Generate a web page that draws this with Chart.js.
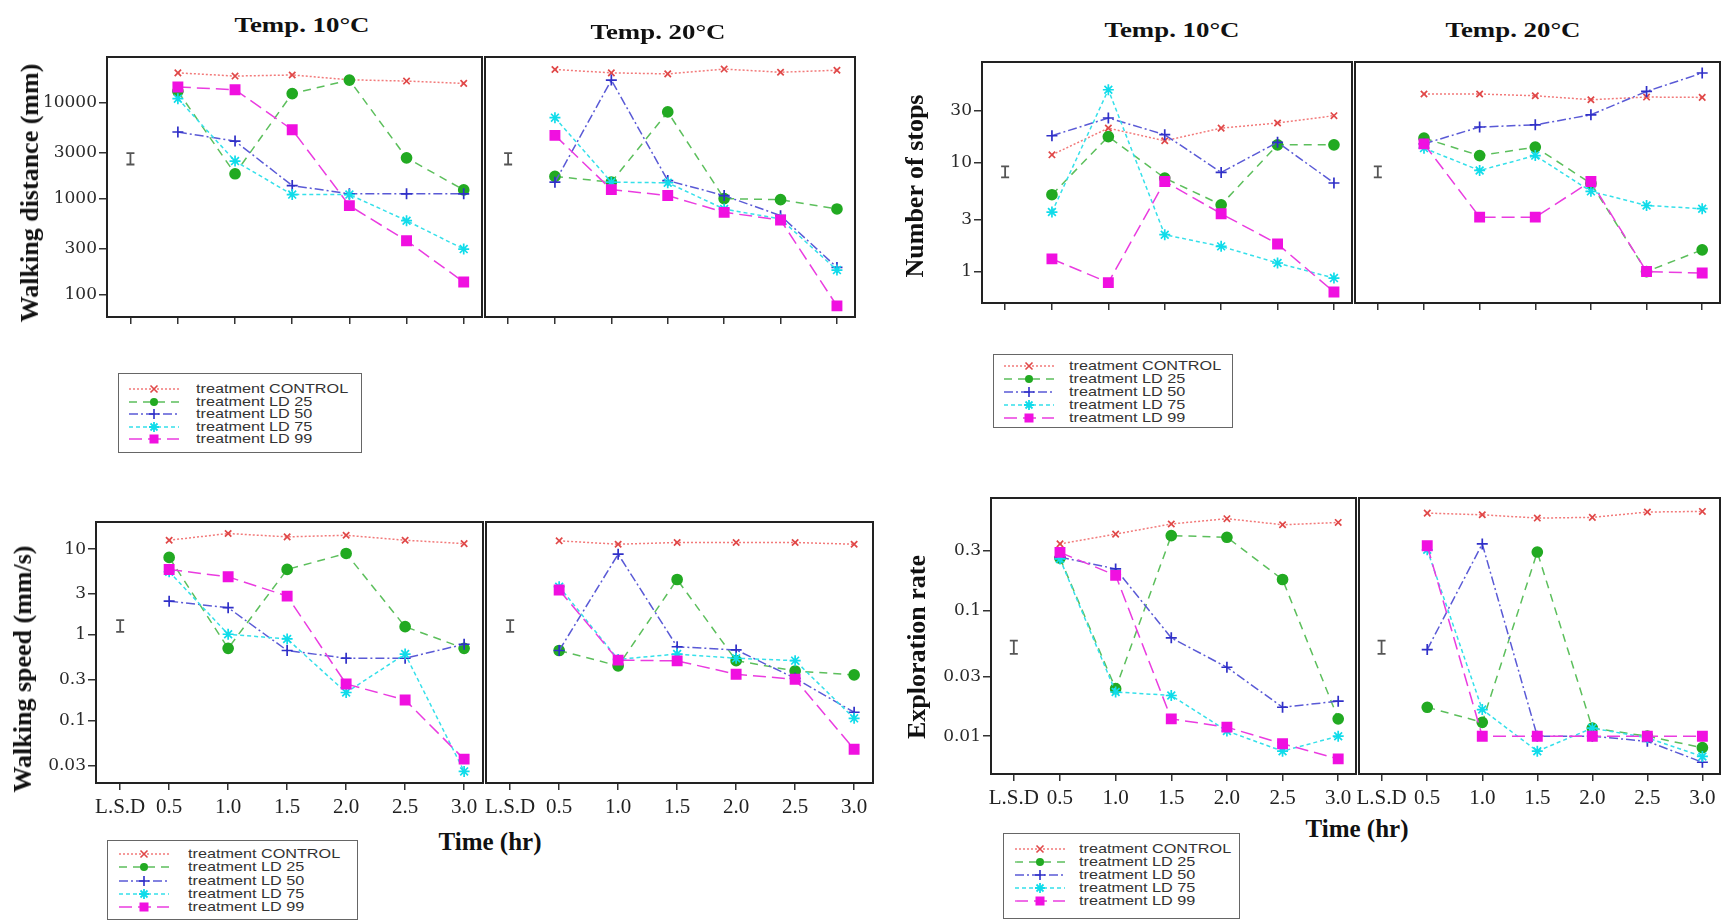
<!DOCTYPE html>
<html>
<head>
<meta charset="utf-8">
<script src="https://cdn.jsdelivr.net/npm/chart.js@4.4.1/dist/chart.umd.min.js"></script>
<style>
html, body { margin: 0; padding: 0; background: #fff; overflow: hidden; }
#page { position: relative; width: 1721px; height: 921px; }
canvas { position: absolute; }
.title { position: absolute; font: bold 22px "Liberation Serif", serif; color: #111; white-space: nowrap; transform: translate(-50%, -50%) scaleX(1.22); }
.ytitle { position: absolute; font: bold 26px "Liberation Serif", serif; color: #111; white-space: nowrap; transform: translate(-50%, -50%) rotate(-90deg); }
.xtitle { position: absolute; font: bold 25px "Liberation Serif", serif; color: #111; white-space: nowrap; transform: translate(-50%, -50%); }
.legend { position: absolute; border: 1.5px solid #666; box-sizing: border-box; background: #fff; }
.legend .row { position: absolute; left: 0; height: 14px; width: 100%; }
.legend svg { position: absolute; top: 1px; }
.legend span { position: absolute; top: 0; font: 13.5px "Liberation Sans", Arial, sans-serif; line-height: 14px; color: #333; white-space: nowrap; transform: scaleX(1.2); transform-origin: 0 50%; }
</style>
</head>
<body>
<div id="page"></div>
<script>
// time points (hr) and the L.S.D slot on the x axis
const times = [0.5, 1.0, 1.5, 2.0, 2.5, 3.0];
const lsdPos = 0.085;
const xTickLabels = ['L.S.D', '0.5', '1.0', '1.5', '2.0', '2.5', '3.0'];
const treatments = ['treatment CONTROL', 'treatment LD 25', 'treatment LD 50', 'treatment LD 75', 'treatment LD 99'];

// Walking distance (mm)
const distTicks = [100, 300, 1000, 3000, 10000];
const dist10 = [
    [20200, 18700, 19200, 17100, 16600, 15700],
    [13000, 1810, 12300, 17000, 2650, 1230],
    [4910, 3950, 1365, 1120, 1120, 1120],
    [10900, 2450, 1100, 1100, 590, 299],
    [14400, 13500, 5190, 845, 365, 136]
];
const dist20 = [
    [21900, 20200, 19700, 22100, 20500, 21500],
    [1700, 1480, 7930, 1000, 975, 780],
    [1480, 17000, 1540, 1075, 665, 193],
    [6920, 1480, 1460, 780, 614, 181],
    [4530, 1240, 1075, 720, 600, 77]
];
const distLsd = [2260, 2970];

// Number of stops
const stopsTicks = [1, 3, 10, 30];
const stops10 = [
    [11.9, 20.9, 16.0, 20.9, 23.3, 27.2],
    [5.12, 17.5, 7.28, 4.14, 14.7, 14.7],
    [17.8, 25.9, 18.2, 8.2, 15.5, 6.56],
    [3.55, 47, 2.2, 1.72, 1.21, 0.88],
    [1.32, 0.80, 6.78, 3.43, 1.81, 0.656]
];
const stops20 = [
    [43, 43, 41.4, 38.1, 40.3, 40],
    [16.9, 11.7, 14.0, 6.5, 1.01, 1.6],
    [15.0, 21.4, 22.4, 27.7, 45.4, 67],
    [13.7, 8.55, 11.7, 5.5, 4.08, 3.81],
    [15.0, 3.19, 3.19, 6.78, 1.01, 0.98]
];
const stopsLsd = [7.4, 9.3];

// Walking speed (mm/s)
const speedTicks = [0.03, 0.1, 0.3, 1, 3, 10];
const speed10 = [
    [12.7, 15.2, 13.9, 14.5, 12.7, 11.6],
    [8.0, 0.70, 5.8, 8.9, 1.25, 0.70],
    [2.48, 2.08, 0.66, 0.536, 0.536, 0.78],
    [5.45, 1.02, 0.90, 0.214, 0.60, 0.0258],
    [5.8, 4.76, 2.84, 0.269, 0.175, 0.0358]
];
const speed20 = [
    [12.5, 11.4, 11.95, 11.95, 11.95, 11.4],
    [0.66, 0.437, 4.43, 0.503, 0.381, 0.343],
    [0.66, 8.74, 0.73, 0.67, 0.313, 0.126],
    [3.65, 0.52, 0.60, 0.536, 0.503, 0.107],
    [3.34, 0.51, 0.50, 0.349, 0.305, 0.0468]
];
const speedLsd = [1.09, 1.49];

// Exploration rate
const exploreTicks = [0.01, 0.03, 0.1, 0.3];
const explore10 = [
    [0.34, 0.407, 0.49, 0.54, 0.483, 0.504],
    [0.262, 0.0239, 0.396, 0.384, 0.177, 0.01375],
    [0.267, 0.215, 0.0607, 0.0354, 0.017, 0.019],
    [0.258, 0.0225, 0.0211, 0.011, 0.0076, 0.01],
    [0.291, 0.191, 0.01375, 0.0118, 0.0087, 0.0066]
];
const explore20 = [
    [0.598, 0.58, 0.546, 0.553, 0.61, 0.617],
    [0.017, 0.0129, 0.293, 0.0116, 0.01, 0.0081],
    [0.049, 0.34, 0.01, 0.01, 0.0091, 0.0062],
    [0.305, 0.0163, 0.0076, 0.0116, 0.0097, 0.0069],
    [0.329, 0.01, 0.01, 0.01, 0.01, 0.01]
];
const exploreLsd = [0.0452, 0.0577];

// series styles
const lineColors = ['#f27a7a', '#5cbf5c', '#5a5ad6', '#35e0ea', '#ea3ce0'];
const markColors = ['#e04848', '#22aa22', '#3030c8', '#10dcea', '#f010e0'];
const dashes = [[2, 2], [8, 6], [9, 3, 2, 3], [4, 3], [13, 6]];
const shapes = ['crossRot', 'circle', 'cross', 'star', 'rect'];
const radii = [4.5, 5, 5.5, 5.5, 6.5];

const panels = [
    { yMin: 59, yMax: 29500, ticks: distTicks, d10: dist10, d20: dist20, lsd: distLsd,
      top: 57, h: 260, l: [107, 375], r: [482, 373], xLabels: false },
    { yMin: 0.52, yMax: 84.5, ticks: stopsTicks, d10: stops10, d20: stops20, lsd: stopsLsd,
      top: 62, h: 241, l: [982, 370], r: [1352, 368], xLabels: false },
    { yMin: 0.0189, yMax: 20.7, ticks: speedTicks, d10: speed10, d20: speed20, lsd: speedLsd,
      top: 522, h: 261, l: [96, 387], r: [483, 390], xLabels: true },
    { yMin: 0.005, yMax: 0.789, ticks: exploreTicks, d10: explore10, d20: explore20, lsd: exploreLsd,
      top: 498, h: 276, l: [991, 365], r: [1356, 364], xLabels: true }
];

const page = document.getElementById('page');

// frame around the plot area
const boxPlugin = {
    id: 'box',
    afterDraw(chart) {
        const a = chart.chartArea, ctx = chart.ctx;
        ctx.save();
        ctx.strokeStyle = '#222';
        ctx.lineWidth = 2;
        ctx.strokeRect(a.left, a.top, a.right - a.left, a.bottom - a.top);
        ctx.restore();
    }
};

// L.S.D error bar
const lsdPlugin = {
    id: 'lsd',
    afterDatasetsDraw(chart, args, opts) {
        const ctx = chart.ctx;
        const x = chart.scales.x.getPixelForValue(lsdPos);
        const y1 = chart.scales.y.getPixelForValue(opts.values[0]);
        const y2 = chart.scales.y.getPixelForValue(opts.values[1]);
        ctx.save();
        ctx.strokeStyle = '#555';
        ctx.lineWidth = 1.8;
        ctx.beginPath();
        ctx.moveTo(x, y1); ctx.lineTo(x, y2);
        ctx.moveTo(x - 4, y1); ctx.lineTo(x + 4, y1);
        ctx.moveTo(x - 4, y2); ctx.lineTo(x + 4, y2);
        ctx.stroke();
        ctx.restore();
    }
};

function makeChart(p, side) {
    const box = side === 'l' ? p.l : p.r;
    const padL = side === 'l' ? 80 : 3;
    const padT = 4, padR = 4, padB = 40;
    const W = box[1] + padL + padR, H = p.h + padT + padB;
    const cv = document.createElement('canvas');
    cv.width = W; cv.height = H;
    cv.style.width = W + 'px'; cv.style.height = H + 'px';
    cv.style.left = (box[0] - padL) + 'px';
    cv.style.top = (p.top - padT) + 'px';
    page.appendChild(cv);

    const series = side === 'l' ? p.d10 : p.d20;
    const datasets = series.map((vals, k) => ({
        label: treatments[k],
        data: times.map((t, i) => ({ x: t, y: vals[i] })),
        borderColor: lineColors[k],
        borderWidth: 1.5,
        borderDash: dashes[k],
        pointStyle: shapes[k],
        pointRadius: radii[k],
        pointBackgroundColor: markColors[k],
        pointBorderColor: markColors[k],
        pointBorderWidth: 1.7,
        tension: 0,
        order: 5 - k
    }));

    new Chart(cv, {
        type: 'line',
        data: { datasets: datasets },
        options: {
            responsive: false,
            animation: false,
            layout: {
                autoPadding: false,
                padding: { top: padT, right: padR, left: side === 'l' ? 0 : padL, bottom: 0 }
            },
            plugins: {
                legend: { display: false },
                tooltip: { enabled: false },
                lsd: { values: p.lsd }
            },
            scales: {
                x: {
                    type: 'linear',
                    min: -0.12,
                    max: 3.16,
                    afterBuildTicks: s => { s.ticks = [lsdPos].concat(times).map(v => ({ value: v })); },
                    afterFit: s => { s.height = padB; s.paddingLeft = 0; s.paddingRight = 0; },
                    grid: { drawOnChartArea: false, drawTicks: true, tickLength: 7, color: '#333', lineWidth: 1.5 },
                    border: { display: false },
                    ticks: {
                        color: p.xLabels ? '#222' : 'rgba(0,0,0,0)',
                        font: { family: 'Liberation Serif', size: 21 },
                        padding: 5,
                        maxRotation: 0,
                        autoSkip: false,
                        callback: (v, i) => xTickLabels[i]
                    }
                },
                y: {
                    type: 'logarithmic',
                    min: p.yMin,
                    max: p.yMax,
                    display: side === 'l',
                    afterBuildTicks: s => { s.ticks = p.ticks.map(v => ({ value: v })); },
                    afterFit: s => { s.width = padL; s.paddingTop = 0; s.paddingBottom = 0; },
                    grid: { drawOnChartArea: false, tickLength: 8, color: '#333', lineWidth: 1.5 },
                    border: { display: false },
                    ticks: {
                        color: '#2a2a2a',
                        font: { family: 'DejaVu Serif', size: 17 },
                        padding: 2,
                        autoSkip: false,
                        callback: v => String(v)
                    }
                }
            }
        },
        plugins: [boxPlugin, lsdPlugin]
    });
}

panels.forEach(p => { makeChart(p, 'l'); makeChart(p, 'r'); });

function addText(cls, text, x, y) {
    const d = document.createElement('div');
    d.className = cls;
    d.textContent = text;
    d.style.left = x + 'px';
    d.style.top = y + 'px';
    page.appendChild(d);
}

addText('title', 'Temp. 10°C', 302, 25);
addText('title', 'Temp. 20°C', 658, 32);
addText('title', 'Temp. 10°C', 1172, 30);
addText('title', 'Temp. 20°C', 1513, 30);
addText('ytitle', 'Walking distance (mm)', 30, 193);
addText('ytitle', 'Number of stops', 915, 186);
addText('ytitle', 'Walking speed (mm/s)', 23, 669);
addText('ytitle', 'Exploration rate', 917, 647);
addText('xtitle', 'Time (hr)', 490, 842);
addText('xtitle', 'Time (hr)', 1357, 829);

// legends
const legendBoxes = [
    { x: 118, y: 373, w: 244, h: 80, row0: 388, step: 12.6, sx: 128, tx: 195 },
    { x: 107, y: 840, w: 251, h: 80, row0: 853, step: 13.3, sx: 118, tx: 187 },
    { x: 993, y: 354, w: 240, h: 74, row0: 365, step: 13.1, sx: 1003, tx: 1068 },
    { x: 1003, y: 833, w: 237, h: 86, row0: 848, step: 12.9, sx: 1014, tx: 1078 }
];

function markerSvg(k) {
    const c = markColors[k], cx = 25, cy = 6;
    switch (shapes[k]) {
        case 'crossRot': return `<path d="M${cx-3.5} ${cy-3.5}L${cx+3.5} ${cy+3.5}M${cx-3.5} ${cy+3.5}L${cx+3.5} ${cy-3.5}" stroke="${c}" stroke-width="1.6"/>`;
        case 'circle': return `<circle cx="${cx}" cy="${cy}" r="4" fill="${c}"/>`;
        case 'cross': return `<path d="M${cx-5} ${cy}L${cx+5} ${cy}M${cx} ${cy-5}L${cx} ${cy+5}" stroke="${c}" stroke-width="1.6"/>`;
        case 'star': return `<path d="M${cx-5} ${cy}L${cx+5} ${cy}M${cx} ${cy-5}L${cx} ${cy+5}M${cx-3.5} ${cy-3.5}L${cx+3.5} ${cy+3.5}M${cx-3.5} ${cy+3.5}L${cx+3.5} ${cy-3.5}" stroke="${c}" stroke-width="1.8"/>`;
        default: return `<rect x="${cx-4.5}" y="${cy-4.5}" width="9" height="9" fill="${c}"/>`;
    }
}

legendBoxes.forEach(b => {
    const box = document.createElement('div');
    box.className = 'legend';
    box.style.left = b.x + 'px'; box.style.top = b.y + 'px';
    box.style.width = b.w + 'px'; box.style.height = b.h + 'px';
    treatments.forEach((name, k) => {
        const row = document.createElement('div');
        row.className = 'row';
        row.style.top = (b.row0 - b.y - 7 + k * b.step) + 'px';
        row.innerHTML =
            `<svg width="50" height="12" style="left:${b.sx - b.x}px">` +
            `<line x1="0" y1="6" x2="50" y2="6" stroke="${lineColors[k]}" stroke-width="1.3" stroke-dasharray="${dashes[k].join(',')}"/>` +
            markerSvg(k) + `</svg>` +
            `<span style="left:${b.tx - b.x}px">${name}</span>`;
        box.appendChild(row);
    });
    page.appendChild(box);
});
</script>
</body>
</html>
